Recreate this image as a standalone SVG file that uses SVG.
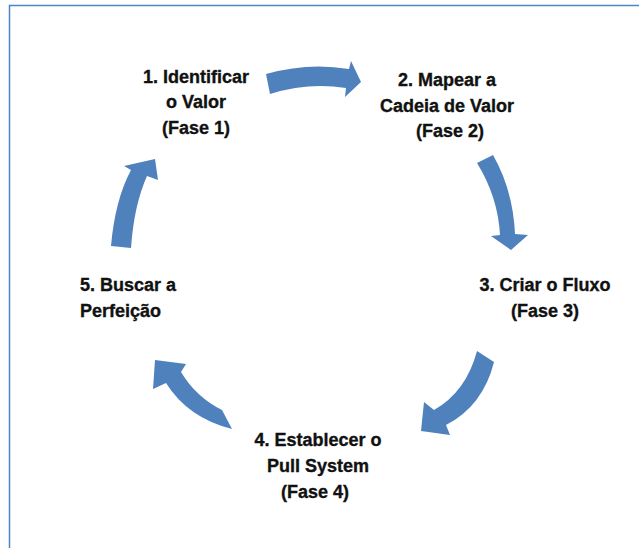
<svg xmlns="http://www.w3.org/2000/svg" width="639" height="548" viewBox="0 0 639 548">
  <style>
    .lbl { font-family: "Liberation Sans", Arial, sans-serif; font-weight: bold; font-size: 18px; fill: #111; stroke: #111; stroke-width: 0.35; }
    .mid { text-anchor: middle; }
    .arr { fill: #4f81bd; }
    .frame { fill: none; stroke: #4a86c8; stroke-width: 1.5; }
  </style>
  <rect width="639" height="548" fill="#ffffff"/>
  <!-- page frame (open on right and bottom) -->
  <path class="frame" d="M 9.5 548 L 9.5 5.5 L 639 5.5"/>

  <!-- curved arrows between stages -->
  <g id="connectors">
    <path class="arr" d="M 266 74 Q 308 62 349 69 L 351 61 L 361 82 L 345 97 L 346 88 Q 308 82 270 94 Z"/>
    <path class="arr" d="M 493 155 Q 513 190 515 234 L 528 235 L 511 250 L 491 236 L 500 235 Q 498 197 477 163 Z"/>
    <path class="arr" d="M 477 351 L 494 362 Q 483 406 446 425 L 450 435 L 421 431 L 424 402 L 434 410 Q 466 392 477 351 Z"/>
    <path class="arr" d="M 222 410 Q 196 397 181 372 L 186 364 L 155 360 L 153 389 L 166 383 Q 188 418 232 429 Z"/>
    <path class="arr" d="M 111 246 Q 115 200 131 170 L 124 166 L 155 159 L 158 180 L 147 176 Q 134 205 131 248 Z"/>
  </g>

  <g id="stage1">
    <text class="lbl mid" x="196" y="83">1. Identificar</text>
    <text class="lbl mid" x="196" y="108">o Valor</text>
    <text class="lbl mid" x="196" y="134">(Fase 1)</text>
  </g>
  <g id="stage2">
    <text class="lbl mid" x="447" y="86">2. Mapear a</text>
    <text class="lbl mid" x="447" y="112">Cadeia de Valor</text>
    <text class="lbl mid" x="450" y="137">(Fase 2)</text>
  </g>
  <g id="stage3">
    <text class="lbl mid" x="545" y="291">3. Criar o Fluxo</text>
    <text class="lbl mid" x="545" y="317">(Fase 3)</text>
  </g>
  <g id="stage4">
    <text class="lbl mid" x="318" y="446">4. Establecer o</text>
    <text class="lbl mid" x="318" y="472">Pull System</text>
    <text class="lbl mid" x="315" y="498">(Fase 4)</text>
  </g>
  <g id="stage5">
    <text class="lbl" x="80" y="291">5. Buscar a</text>
    <text class="lbl" x="80" y="317">Perfeição</text>
  </g>
</svg>
